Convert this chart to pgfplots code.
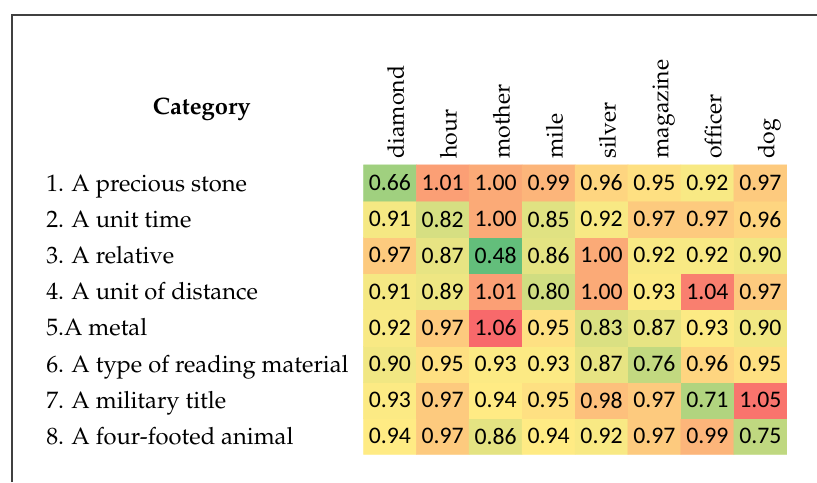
\documentclass[border=0pt]{standalone}
\usepackage[T1]{fontenc}
\usepackage{fontspec}
\usepackage{pgfplots}
\pgfplotsset{compat=1.18}
\usepackage{pgfplotstable}
\newfontfamily\calibri{Carlito}
\newcommand\pala{\usefont{T1}{ppl}{m}{n}}
\newcommand\palab{\usefont{T1}{ppl}{b}{n}}
\definecolor{frame}{RGB}{64,64,64}

% Excel green-yellow-red scale: min 0.48, midpoint (median) 0.94, max 1.06
\pgfplotsset{colormap={excel}{rgb255(0)=(99,190,123) rgb255(46)=(255,235,132) rgb255(58)=(248,105,107)}}

% x = word column, y = 8 - row number (row 1 at the top)
\pgfplotstableread{
x y v
0 0 0.94
1 0 0.97
2 0 0.86
3 0 0.94
4 0 0.92
5 0 0.97
6 0 0.99
7 0 0.75
0 1 0.93
1 1 0.97
2 1 0.94
3 1 0.95
4 1 0.98
5 1 0.97
6 1 0.71
7 1 1.05
0 2 0.90
1 2 0.95
2 2 0.93
3 2 0.93
4 2 0.87
5 2 0.76
6 2 0.96
7 2 0.95
0 3 0.92
1 3 0.97
2 3 1.06
3 3 0.95
4 3 0.83
5 3 0.87
6 3 0.93
7 3 0.90
0 4 0.91
1 4 0.89
2 4 1.01
3 4 0.80
4 4 1.00
5 4 0.93
6 4 1.04
7 4 0.97
0 5 0.97
1 5 0.87
2 5 0.48
3 5 0.86
4 5 1.00
5 5 0.92
6 5 0.92
7 5 0.90
0 6 0.91
1 6 0.82
2 6 1.00
3 6 0.85
4 6 0.92
5 6 0.97
6 6 0.97
7 6 0.96
0 7 0.66
1 7 1.01
2 7 1.00
3 7 0.99
4 7 0.96
5 7 0.95
6 7 0.92
7 7 0.97
}\cells

\begin{document}
\begin{tikzpicture}
\useasboundingbox (0,0) rectangle (612.75pt,361.5pt);
\draw[frame, line width=1.1pt] (9pt,0) -- (9pt,350.25pt) -- (612.75pt,350.25pt);
\node[anchor=base, font=\palab\fontsize{17.8}{20}\selectfont] at (151.3pt,275.25pt) {Category};
\begin{axis}[
    at={(272.5pt,20.8pt)}, anchor=south west,
    scale only axis,
    width=317.6pt, height=217pt,
    xmin=-0.5, xmax=7.5, ymin=-0.5, ymax=7.5,
    enlargelimits=false,
    axis line style={draw=none},
    major tick length=0pt,
    colormap name=excel,
    point meta min=0.48, point meta max=1.06,
    xtick={0,...,7},
    xticklabels={diamond,hour,mother,mile,silver,magazine,officer,dog},
    xticklabel pos=upper,
    xticklabel style={inner sep=0pt, anchor=base west, xshift=10.5pt, yshift=4.5pt, rotate=90,
        font=\pala\fontsize{17.3}{20}\selectfont},
    ytick={0,...,7},
    yticklabels={8. A four-footed animal, 7. A military title, 6. A type of reading material,
        5.A metal, 4. A unit of distance, 3. A relative, 2. A unit time, 1. A precious stone},
    yticklabel style={inner sep=0pt, anchor=base west, xshift=-238pt, yshift=-6.2pt,
        font=\pala\fontsize{17.8}{20}\selectfont},
]
\addplot[matrix plot*, mesh/cols=8, point meta=explicit,
    nodes near coords={\pgfmathprintnumber{\pgfplotspointmeta}},
    nodes near coords style={anchor=center, text=black, inner sep=0pt,
        font=\calibri\fontsize{17.8}{20}\selectfont,
        /pgf/number format/.cd, fixed, fixed zerofill, precision=2, assume math mode=true}]
    table[x=x, y=y, meta=v] {\cells};
\end{axis}
\end{tikzpicture}
\end{document}
